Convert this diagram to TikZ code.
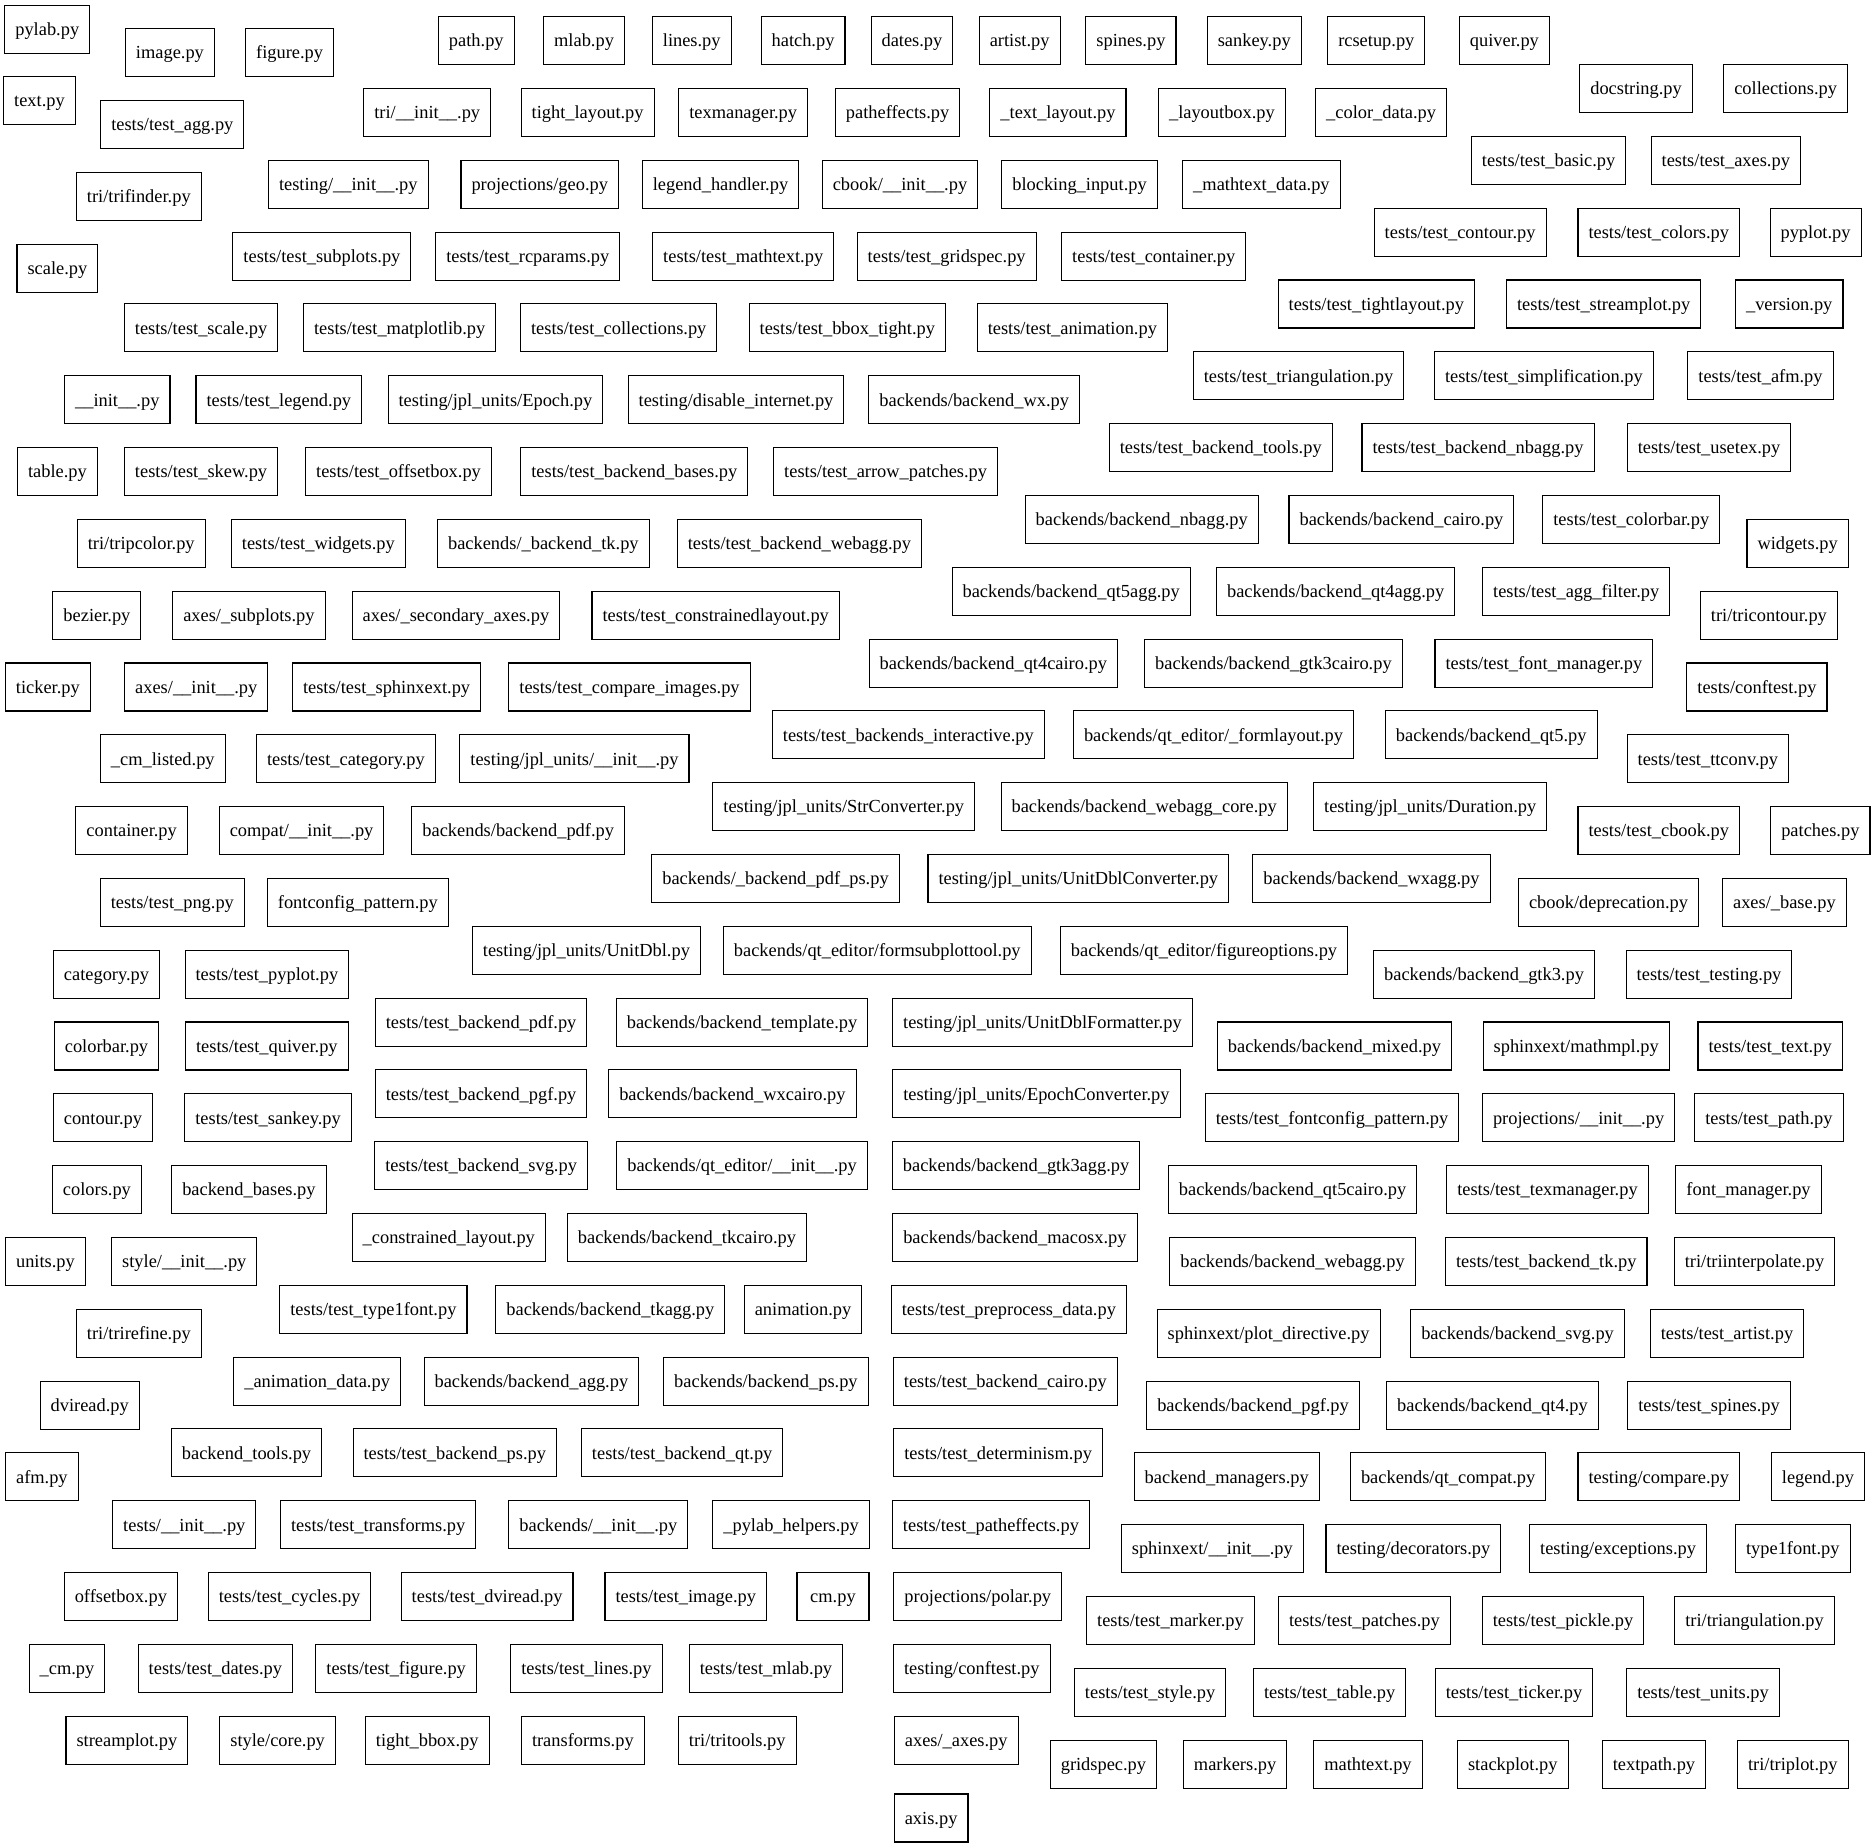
\documentclass[tikz,border=0pt]{standalone}
\usepackage{fontspec}
\setmainfont{Liberation Serif}
\begin{document}
\begin{tikzpicture}[x=0.8976pt,y=-0.8976pt,
  m/.style={draw=black,line width=0.8pt,rectangle,inner xsep=7.9pt,inner ysep=0pt,
    text height=12.4pt,text depth=3pt,
    minimum height=36pt,minimum width=54pt,font=\fontsize{13.8pt}{16pt}\selectfont}]
\useasboundingbox[fill=white] (0,0) rectangle (1565,1543.3);
% row block 1
\node[m] (a1) at (39.5,24.5) {pylab.py};
\node[m] (a2) at (142,44) {image.py};
\node[m] (a3) at (242,44) {figure.py};
\node[m] (a4) at (398,34) {path.py};
\node[m] (a5) at (488,34) {mlab.py};
\node[m] (a6) at (578,34) {lines.py};
\node[m] (a7) at (671,34) {hatch.py};
\node[m] (a8) at (762,34) {dates.py};
\node[m] (a9) at (852,34) {artist.py};
\node[m] (a10) at (945,34) {spines.py};
\node[m] (a11) at (1048,34) {sankey.py};
\node[m] (a12) at (1150,34) {rcsetup.py};
\node[m] (a13) at (1257,34) {quiver.py};
\node[m] (a14) at (1367,74) {docstring.py};
\node[m] (a15) at (1492,74) {collections.py};
% 
\node[m] (b1) at (33,84) {text.py};
\node[m] (b2) at (144,104) {tests/test\_agg.py};
\node[m] (b3) at (357,94) {tri/\_\_init\_\_.py};
\node[m] (b4) at (491,94) {tight\_layout.py};
\node[m] (b5) at (621,94) {texmanager.py};
\node[m] (b6) at (750,94) {patheffects.py};
\node[m] (b7) at (884,94) {\_text\_layout.py};
\node[m] (b8) at (1021,94) {\_layoutbox.py};
\node[m] (b9) at (1154,94) {\_color\_data.py};
\node[m] (b10) at (1294,134) {tests/test\_basic.py};
\node[m] (b11) at (1442,134) {tests/test\_axes.py};
%
\node[m] (c1) at (116,164) {tri/trifinder.py};
\node[m] (c2) at (291,154) {testing/\_\_init\_\_.py};
\node[m] (c3) at (451,154) {projections/geo.py};
\node[m] (c4) at (602,154) {legend\_handler.py};
\node[m] (c5) at (752,154) {cbook/\_\_init\_\_.py};
\node[m] (c6) at (902,154) {blocking\_input.py};
\node[m] (c7) at (1054,154) {\_mathtext\_data.py};
\node[m] (c8) at (1220,194) {tests/test\_contour.py};
\node[m] (c9) at (1386,194) {tests/test\_colors.py};
\node[m] (c10) at (1517,194) {pyplot.py};
%
\node[m] (d1) at (48,224) {scale.py};
\node[m] (d2) at (269,214) {tests/test\_subplots.py};
\node[m] (d3) at (441,214) {tests/test\_rcparams.py};
\node[m] (d4) at (621,214) {tests/test\_mathtext.py};
\node[m] (d5) at (791,214) {tests/test\_gridspec.py};
\node[m] (d6) at (964,214) {tests/test\_container.py};
\node[m] (d7) at (1150,254) {tests/test\_tightlayout.py};
\node[m] (d8) at (1340,254) {tests/test\_streamplot.py};
\node[m] (d9) at (1495,254) {\_version.py};
%
\node[m] (e1) at (168,274) {tests/test\_scale.py};
\node[m] (e2) at (334,274) {tests/test\_matplotlib.py};
\node[m] (e3) at (517,274) {tests/test\_collections.py};
\node[m] (e4) at (708,274) {tests/test\_bbox\_tight.py};
\node[m] (e5) at (896,274) {tests/test\_animation.py};
\node[m] (e6) at (1085,314) {tests/test\_triangulation.py};
\node[m] (e7) at (1290,314) {tests/test\_simplification.py};
\node[m] (e8) at (1471,314) {tests/test\_afm.py};
%
\node[m] (f1) at (98,334) {\_\_init\_\_.py};
\node[m] (f2) at (233,334) {tests/test\_legend.py};
\node[m] (f3) at (414,334) {testing/jpl\_units/Epoch.py};
\node[m] (f4) at (615,334) {testing/disable\_internet.py};
\node[m] (f5) at (814,334) {backends/backend\_wx.py};
\node[m] (f6) at (1020,374) {tests/test\_backend\_tools.py};
\node[m] (f7) at (1235,374) {tests/test\_backend\_nbagg.py};
\node[m] (f8) at (1428,374) {tests/test\_usetex.py};
%
\node[m] (g1) at (48,394) {table.py};
\node[m] (g2) at (168,394) {tests/test\_skew.py};
\node[m] (g3) at (333,394) {tests/test\_offsetbox.py};
\node[m] (g4) at (530,394) {tests/test\_backend\_bases.py};
\node[m] (g5) at (740,394) {tests/test\_arrow\_patches.py};
\node[m] (g6) at (954,434) {backends/backend\_nbagg.py};
\node[m] (g7) at (1171,434) {backends/backend\_cairo.py};
\node[m] (g8) at (1363,434) {tests/test\_colorbar.py};
\node[m] (g9) at (1502,454) {widgets.py};
%
\node[m] (h1) at (118,454) {tri/tripcolor.py};
\node[m] (h2) at (266,454) {tests/test\_widgets.py};
\node[m] (h3) at (454,454) {backends/\_backend\_tk.py};
\node[m] (h4) at (668,454) {tests/test\_backend\_webagg.py};
\node[m] (h5) at (895,494) {backends/backend\_qt5agg.py};
\node[m] (h6) at (1116,494) {backends/backend\_qt4agg.py};
\node[m] (h7) at (1317,494) {tests/test\_agg\_filter.py};
\node[m] (h8) at (1478,514) {tri/tricontour.py};
%
\node[m] (i1) at (81,514) {bezier.py};
\node[m] (i2) at (208,514) {axes/\_subplots.py};
\node[m] (i3) at (381,514) {axes/\_secondary\_axes.py};
\node[m] (i4) at (598,514) {tests/test\_constrainedlayout.py};
\node[m] (i5) at (830,554) {backends/backend\_qt4cairo.py};
\node[m] (i6) at (1064,554) {backends/backend\_gtk3cairo.py};
\node[m] (i7) at (1290,554) {tests/test\_font\_manager.py};
\node[m] (i8) at (1468,574) {tests/conftest.py};
%
\node[m] (j1) at (40,574) {ticker.py};
\node[m] (j2) at (164,574) {axes/\_\_init\_\_.py};
\node[m] (j3) at (323,574) {tests/test\_sphinxext.py};
\node[m] (j4) at (526,574) {tests/test\_compare\_images.py};
\node[m] (j5) at (759,614) {tests/test\_backends\_interactive.py};
\node[m] (j6) at (1014,614) {backends/qt\_editor/\_formlayout.py};
\node[m] (j7) at (1246,614) {backends/backend\_qt5.py};
\node[m] (j8) at (1427,634) {tests/test\_ttconv.py};
%
\node[m] (k1) at (136,634) {\_cm\_listed.py};
\node[m] (k2) at (289,634) {tests/test\_category.py};
\node[m] (k3) at (480,634) {testing/jpl\_units/\_\_init\_\_.py};
\node[m] (k4) at (705,674) {testing/jpl\_units/StrConverter.py};
\node[m] (k5) at (956,674) {backends/backend\_webagg\_core.py};
\node[m] (k6) at (1195,674) {testing/jpl\_units/Duration.py};
\node[m] (k7) at (1386,694) {tests/test\_cbook.py};
\node[m] (k8) at (1521,694) {patches.py};
%
\node[m] (l1) at (110,694) {container.py};
\node[m] (l2) at (252,694) {compat/\_\_init\_\_.py};
\node[m] (l3) at (433,694) {backends/backend\_pdf.py};
\node[m] (l4) at (648,734) {backends/\_backend\_pdf\_ps.py};
\node[m] (l5) at (901,734) {testing/jpl\_units/UnitDblConverter.py};
\node[m] (l6) at (1146,734) {backends/backend\_wxagg.py};
\node[m] (l7) at (1344,754) {cbook/deprecation.py};
\node[m] (l8) at (1491,754) {axes/\_base.py};
%
\node[m] (m1) at (144,754) {tests/test\_png.py};
\node[m] (m2) at (299,754) {fontconfig\_pattern.py};
\node[m] (m3) at (490,794) {testing/jpl\_units/UnitDbl.py};
\node[m] (m4) at (733,794) {backends/qt\_editor/formsubplottool.py};
\node[m] (m5) at (1006,794) {backends/qt\_editor/figureoptions.py};
\node[m] (m6) at (1240,814) {backends/backend\_gtk3.py};
\node[m] (m7) at (1428,814) {tests/test\_testing.py};
%
\node[m] (n1) at (89,814) {category.py};
\node[m] (n2) at (223,814) {tests/test\_pyplot.py};
\node[m] (n3) at (402,854) {tests/test\_backend\_pdf.py};
\node[m] (n4) at (620,854) {backends/backend\_template.py};
\node[m] (n5) at (871,854) {testing/jpl\_units/UnitDblFormatter.py};
\node[m] (n6) at (1115,874) {backends/backend\_mixed.py};
\node[m] (n7) at (1317,874) {sphinxext/mathmpl.py};
\node[m] (n8) at (1479,874) {tests/test\_text.py};
%
\node[m] (o1) at (89,874) {colorbar.py};
\node[m] (o2) at (223,874) {tests/test\_quiver.py};
\node[m] (o3) at (402,914) {tests/test\_backend\_pgf.py};
\node[m] (o4) at (612,914) {backends/backend\_wxcairo.py};
\node[m] (o5) at (866,914) {testing/jpl\_units/EpochConverter.py};
\node[m] (o6) at (1113,934) {tests/test\_fontconfig\_pattern.py};
\node[m] (o7) at (1319,934) {projections/\_\_init\_\_.py};
\node[m] (o8) at (1478,934) {tests/test\_path.py};
%
\node[m] (p1) at (86,934) {contour.py};
\node[m] (p2) at (224,934) {tests/test\_sankey.py};
\node[m] (p3) at (402,974) {tests/test\_backend\_svg.py};
\node[m] (p4) at (620,974) {backends/qt\_editor/\_\_init\_\_.py};
\node[m] (p5) at (849,974) {backends/backend\_gtk3agg.py};
\node[m] (p6) at (1080,994) {backends/backend\_qt5cairo.py};
\node[m] (p7) at (1293,994) {tests/test\_texmanager.py};
\node[m] (p8) at (1461,994) {font\_manager.py};
%
\node[m] (q1) at (81,994) {colors.py};
\node[m] (q2) at (208,994) {backend\_bases.py};
\node[m] (q3) at (375,1034) {\_constrained\_layout.py};
\node[m] (q4) at (574,1034) {backends/backend\_tkcairo.py};
\node[m] (q5) at (848,1034) {backends/backend\_macosx.py};
\node[m] (q6) at (1080,1054) {backends/backend\_webagg.py};
\node[m] (q7) at (1292,1054) {tests/test\_backend\_tk.py};
\node[m] (q8) at (1466,1054) {tri/triinterpolate.py};
%
\node[m] (r1) at (38,1054) {units.py};
\node[m] (r2) at (154,1054) {style/\_\_init\_\_.py};
\node[m] (r3) at (312,1094) {tests/test\_type1font.py};
\node[m] (r4) at (510,1094) {backends/backend\_tkagg.py};
\node[m] (r5) at (671,1094) {animation.py};
\node[m] (r6) at (843,1094) {tests/test\_preprocess\_data.py};
\node[m] (r7) at (1060,1114) {sphinxext/plot\_directive.py};
\node[m] (r8) at (1268,1114) {backends/backend\_svg.py};
\node[m] (r9) at (1443,1114) {tests/test\_artist.py};
%
\node[m] (s1) at (116,1114) {tri/trirefine.py};
\node[m] (s2) at (265,1154) {\_animation\_data.py};
\node[m] (s3) at (444,1154) {backends/backend\_agg.py};
\node[m] (s4) at (640,1154) {backends/backend\_ps.py};
\node[m] (s5) at (840,1154) {tests/test\_backend\_cairo.py};
\node[m] (s6) at (1047,1174) {backends/backend\_pgf.py};
\node[m] (s7) at (1247,1174) {backends/backend\_qt4.py};
\node[m] (s8) at (1428,1174) {tests/test\_spines.py};
%
\node[m] (t1) at (75,1174) {dviread.py};
\node[m] (t2) at (206,1214) {backend\_tools.py};
\node[m] (t3) at (380,1214) {tests/test\_backend\_ps.py};
\node[m] (t4) at (570,1214) {tests/test\_backend\_qt.py};
\node[m] (t5) at (834,1214) {tests/test\_determinism.py};
\node[m] (t6) at (1025,1234) {backend\_managers.py};
\node[m] (t7) at (1210,1234) {backends/qt\_compat.py};
\node[m] (t8) at (1386,1234) {testing/compare.py};
\node[m] (t9) at (1519,1234) {legend.py};
%
\node[m] (u1) at (35,1234) {afm.py};
\node[m] (u2) at (154,1274) {tests/\_\_init\_\_.py};
\node[m] (u3) at (316,1274) {tests/test\_transforms.py};
\node[m] (u4) at (500,1274) {backends/\_\_init\_\_.py};
\node[m] (u5) at (661,1274) {\_pylab\_helpers.py};
\node[m] (u6) at (828,1274) {tests/test\_patheffects.py};
\node[m] (u7) at (1013,1294) {sphinxext/\_\_init\_\_.py};
\node[m] (u8) at (1181,1294) {testing/decorators.py};
\node[m] (u9) at (1352,1294) {testing/exceptions.py};
\node[m] (u10) at (1498,1294) {type1font.py};
%
\node[m] (v1) at (101,1334) {offsetbox.py};
\node[m] (v2) at (242,1334) {tests/test\_cycles.py};
\node[m] (v3) at (407,1334) {tests/test\_dviread.py};
\node[m] (v4) at (573,1334) {tests/test\_image.py};
\node[m] (v5) at (696,1334) {cm.py};
\node[m] (v6) at (817,1334) {projections/polar.py};
\node[m] (v7) at (978,1354) {tests/test\_marker.py};
\node[m] (v8) at (1140,1354) {tests/test\_patches.py};
\node[m] (v9) at (1306,1354) {tests/test\_pickle.py};
\node[m] (v10) at (1466,1354) {tri/triangulation.py};
%
\node[m] (w1) at (56,1394) {\_cm.py};
\node[m] (w2) at (180,1394) {tests/test\_dates.py};
\node[m] (w3) at (331,1394) {tests/test\_figure.py};
\node[m] (w4) at (490,1394) {tests/test\_lines.py};
\node[m] (w5) at (640,1394) {tests/test\_mlab.py};
\node[m] (w6) at (812,1394) {testing/conftest.py};
\node[m] (w7) at (961,1414) {tests/test\_style.py};
\node[m] (w8) at (1111,1414) {tests/test\_table.py};
\node[m] (w9) at (1265,1414) {tests/test\_ticker.py};
\node[m] (w10) at (1423,1414) {tests/test\_units.py};
%
\node[m] (x1) at (106,1454) {streamplot.py};
\node[m] (x2) at (232,1454) {style/core.py};
\node[m] (x3) at (357,1454) {tight\_bbox.py};
\node[m] (x4) at (487,1454) {transforms.py};
\node[m] (x5) at (616,1454) {tri/tritools.py};
\node[m] (x6) at (799,1454) {axes/\_axes.py};
\node[m] (x7) at (922,1474) {gridspec.py};
\node[m] (x8) at (1032,1474) {markers.py};
\node[m] (x9) at (1143,1474) {mathtext.py};
\node[m] (x10) at (1264,1474) {stackplot.py};
\node[m] (x11) at (1382,1474) {textpath.py};
\node[m] (x12) at (1498,1474) {tri/triplot.py};
%
\node[m] (y1) at (778,1519) {axis.py};
\end{tikzpicture}
\end{document}
